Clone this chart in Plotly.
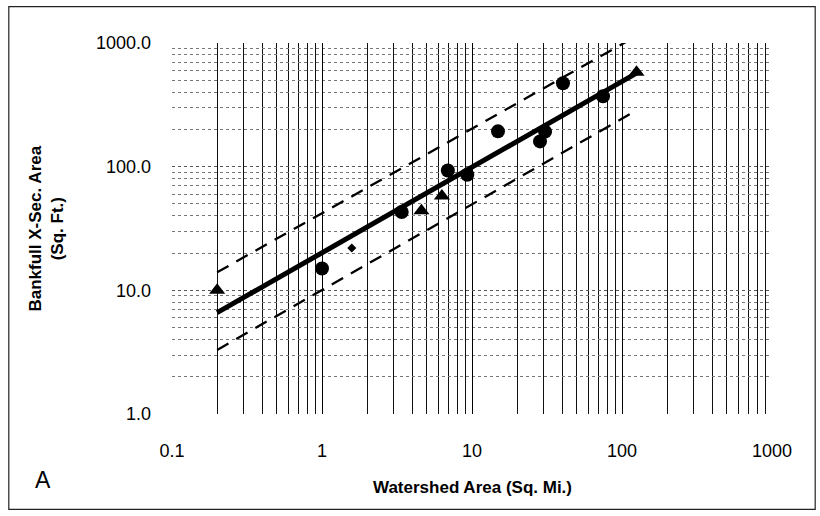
import plotly.graph_objects as go

# Observed bankfull channels
circle_area = [1.0, 3.4, 6.9, 9.3, 14.9, 28.4, 30.7, 40.4, 74.7]
circle_xsec = [15.0, 43.0, 93.0, 86.0, 193.0, 160.0, 192.0, 473.0, 371.0]

triangle_area = [0.2, 4.6, 6.3, 125.0]
triangle_xsec = [10.0, 44.0, 58.0, 580.0]

other_area = [1.58]
other_xsec = [22.0]

# Regional curve and its bounds
fit_area = [0.2, 125.0]
fit_xsec = [6.6, 570.0]
upper_xsec = [14.0, 1140.0]
lower_xsec = [3.3, 285.0]

x_major = [0.1, 1, 10, 100, 1000]
x_major_text = ["0.1", "1", "10", "100", "1000"]
y_major = [1, 10, 100, 1000]
y_major_text = ["1.0", "10.0", "100.0", "1000.0"]

x_minor = [m * d for d in (0.1, 1, 10, 100) for m in range(2, 10)]
y_minor = [m * d for d in (1, 10, 100) for m in range(2, 10)]

FONT = "Liberation Sans, Arial, sans-serif"

fig = go.Figure()

fig.add_trace(go.Scatter(x=fit_area, y=upper_xsec, mode="lines",
                         line=dict(color="black", width=2.3, dash="13px,9px"),
                         hoverinfo="skip"))
fig.add_trace(go.Scatter(x=fit_area, y=lower_xsec, mode="lines",
                         line=dict(color="black", width=2.3, dash="13px,9px"),
                         hoverinfo="skip"))
fig.add_trace(go.Scatter(x=fit_area, y=fit_xsec, mode="lines",
                         line=dict(color="black", width=5)))
fig.add_trace(go.Scatter(x=circle_area, y=circle_xsec, mode="markers",
                         marker=dict(symbol="circle", size=14, color="black"),
                         cliponaxis=False))
fig.add_trace(go.Scatter(x=triangle_area, y=triangle_xsec, mode="markers",
                         marker=dict(symbol="triangle-up", size=14, color="black"),
                         cliponaxis=False))
fig.add_trace(go.Scatter(x=other_area, y=other_xsec, mode="markers",
                         marker=dict(symbol="diamond", size=7, color="black"),
                         cliponaxis=False))

fig.update_xaxes(
    type="log", range=[-1, 3],
    tickvals=x_major, ticktext=x_major_text,
    showgrid=True, gridcolor="#000", gridwidth=1.4,
    minor=dict(tickvals=x_minor, showgrid=True, gridcolor="#111", gridwidth=1.3, ticks=""),
    ticks="", ticklabelstandoff=24,
    zeroline=False, showline=False,
    tickfont=dict(family=FONT, size=18, color="black"),
)
fig.update_yaxes(
    type="log", range=[0, 3],
    tickvals=y_major, ticktext=y_major_text,
    showgrid=True, gridcolor="#555", gridwidth=1, griddash="dot",
    minor=dict(tickvals=y_minor, showgrid=True, gridcolor="#777", gridwidth=1,
               griddash="dot", ticks=""),
    ticks="", ticklabelstandoff=20,
    zeroline=False, showline=False,
    tickfont=dict(family=FONT, size=18, color="black"),
)

fig.add_annotation(text="<b>Watershed Area (Sq. Mi.)</b>", xref="paper", yref="paper",
                   x=0.5, y=-0.199, xanchor="center", yanchor="middle", showarrow=False,
                   font=dict(family=FONT, size=17, color="black"))
fig.add_annotation(text="<b>Bankfull X-Sec. Area<br>(Sq. Ft.)</b>", xref="paper", yref="paper",
                   x=-0.21, y=0.5, xanchor="center", yanchor="middle",
                   textangle=-90, showarrow=False,
                   font=dict(family=FONT, size=17, color="black"))
fig.add_annotation(text="A", xref="paper", yref="paper",
                   x=-0.215, y=-0.178, xanchor="center", yanchor="middle", showarrow=False,
                   font=dict(family=FONT, size=23, color="black"))

# outer chart frame
fig.add_shape(type="rect", xref="paper", yref="paper",
              x0=-0.272, x1=1.072, y0=-0.257, y1=1.098,
              line=dict(color="#222", width=1.2))

fig.update_layout(
    width=820, height=516,
    margin=dict(l=172, r=48, t=43, b=102),
    plot_bgcolor="white", paper_bgcolor="white",
    showlegend=False,
    font=dict(family=FONT, color="black"),
)

fig.write_html("out.html")
